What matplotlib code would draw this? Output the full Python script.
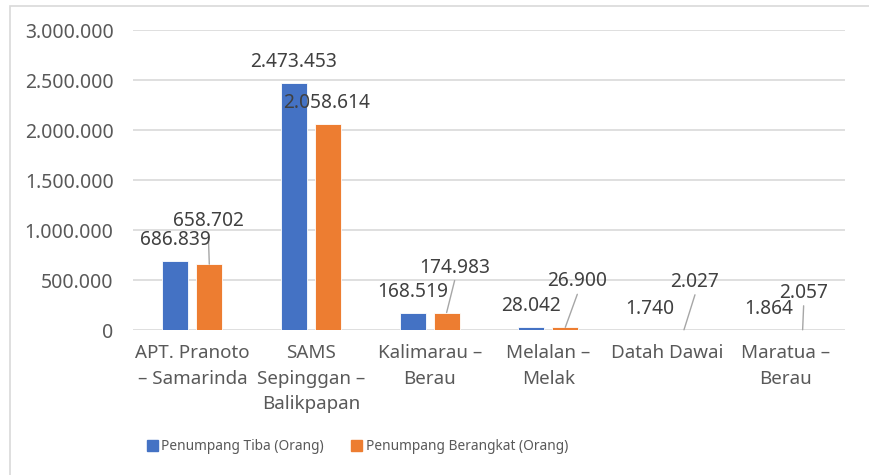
import matplotlib.pyplot as plt
import matplotlib.patches as mpatches
from matplotlib.ticker import FuncFormatter
import numpy as np

plt.rcParams['font.family'] = ['Noto Sans', 'DejaVu Sans']

bandara = ["APT. Pranoto\n– Samarinda", "SAMS\nSepinggan –\nBalikpapan", "Kalimarau –\nBerau",
           "Melalan –\nMelak", "Datah Dawai", "Maratua –\nBerau"]
tiba = [686839, 2473453, 168519, 28042, 1740, 1864]
berangkat = [658702, 2058614, 174983, 26900, 2027, 2057]
seri = ["Penumpang Tiba (Orang)", "Penumpang Berangkat (Orang)"]

# label offsets for the orange series (pixels, from top of bar)
off_orange = [(-1, 43), (-1, 21), (8, 45), (12, 46), (11, 48), (1, 37)]

BLUE = "#4472C4"
ORANGE = "#ED7D31"
TXT = "#595959"


def titik(v, pos=None):
    return f"{int(v):,}".replace(",", ".")


fig = plt.figure(figsize=(8.69, 4.75), dpi=100)
ax = fig.add_axes([133 / 869, 1 - 330 / 475, 712 / 869, 300 / 475])

x = np.arange(len(bandara))
w = 0.22
d = 0.143
b1 = ax.bar(x - d, tiba, w, color=BLUE, edgecolor="white", linewidth=0.6, zorder=3)
b2 = ax.bar(x + d, berangkat, w, color=ORANGE, edgecolor="white", linewidth=0.6, zorder=3)

ax.set_xlim(-0.5, len(bandara) - 0.5)
ax.set_ylim(0, 3000000)
ax.set_yticks(np.arange(0, 3000001, 500000))
ax.yaxis.set_major_formatter(FuncFormatter(titik))
ax.grid(axis="y", color="#d9d9d9", lw=1.2, zorder=0)
for s in ax.spines.values():
    s.set_visible(False)
ax.tick_params(axis="both", length=0, colors=TXT)
ax.tick_params(axis="y", pad=14, labelsize=14)
ax.tick_params(axis="x", pad=10, labelsize=13.5)
ax.set_xticks(x)
ax.set_xticklabels(bandara, linespacing=1.55)

for i in range(len(bandara)):
    ax.annotate(titik(tiba[i]), (x[i] - d, tiba[i]), xytext=(0, 21),
                textcoords="offset pixels", ha="center", va="center",
                fontsize=13.8, color="#404040", zorder=5)
    dx, dy = off_orange[i]
    ax.annotate(titik(berangkat[i]), (x[i] + d, berangkat[i]), xytext=(dx, dy),
                textcoords="offset pixels", ha="center", va="center",
                fontsize=13.8, color="#404040", zorder=5)
    if dy > 30:
        ax.annotate("", (x[i] + d, berangkat[i]), xytext=(dx, dy - 13),
                    textcoords="offset pixels",
                    arrowprops=dict(arrowstyle="-", color="#a6a6a6", lw=1,
                                    shrinkA=0, shrinkB=0), zorder=4)

handles = [mpatches.Patch(color=BLUE), mpatches.Patch(color=ORANGE)]
fig.legend(handles, seri, loc="center left", bbox_to_anchor=(140 / 869, 1 - 447 / 475),
           ncol=2, frameon=False, labelcolor=TXT, fontsize=9.9, handlelength=0.8,
           handleheight=0.8, handletextpad=0.25, columnspacing=2.0, borderpad=0)

fig.add_artist(mpatches.Rectangle((10 / 869, -0.05), 1.2, 1 - 6 / 475 + 0.05,
                                  transform=fig.transFigure, fill=False,
                                  edgecolor="#d9d9d9", lw=1.2))

fig.savefig("out.png", dpi=100)
